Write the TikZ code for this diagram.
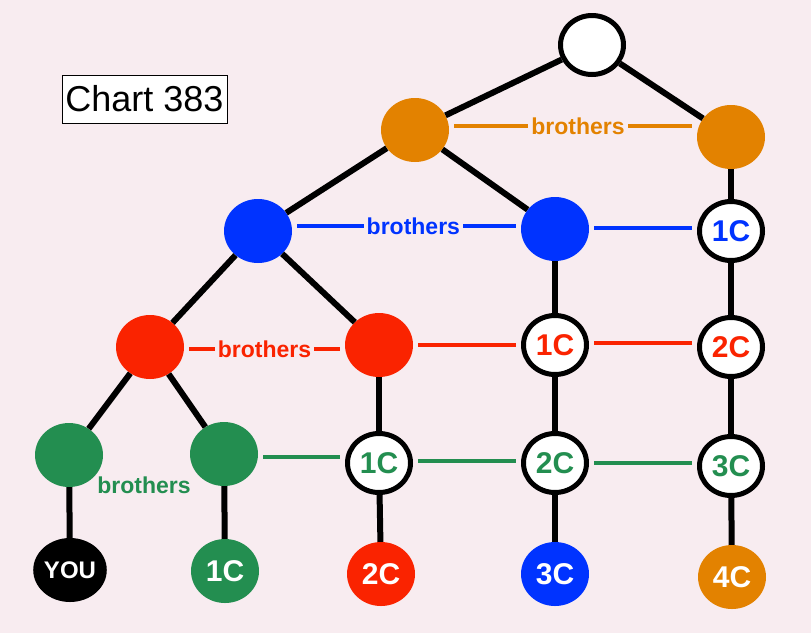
\documentclass[tikz,border=0pt]{standalone}
\usepackage{fontspec}
\setmainfont{Liberation Sans}
\usetikzlibrary{shapes.geometric}
\definecolor{bgpink}{RGB}{248,236,240}
\definecolor{korange}{RGB}{227,130,0}
\definecolor{kblue}{RGB}{0,51,255}
\definecolor{kred}{RGB}{250,35,0}
\definecolor{kgreen}{RGB}{35,142,80}

\begin{document}
\begin{tikzpicture}[x=1pt,y=-1pt,
  person/.style={ellipse,minimum width=68pt,minimum height=64pt,inner sep=0pt,font=\bfseries\fontsize{30}{30}\selectfont},
  cousin/.style={person,draw=black,line width=5pt,fill=white,minimum width=63pt,minimum height=59pt},
  kin/.style={line width=6pt},
  bro/.style={line width=4pt,shorten >=5pt,shorten <=5pt},
  tag/.style={fill=bgpink,inner sep=3pt,font=\bfseries\fontsize{23}{23}\selectfont}]

\fill[bgpink] (0,0) rectangle (811,633);
\useasboundingbox (0,0) rectangle (811,633);

\node[draw=black,line width=1pt,fill=white,minimum width=165pt,minimum height=48pt,inner sep=0pt,font=\fontsize{36}{36}\selectfont] (title) at (144.5,99) {Chart 383};

% generations
\node[cousin] (top) at (592,45) {};
\node[person,fill=korange] (o1) at (415,130) {};
\node[person,fill=korange] (o2) at (731,137) {};

\node[person,fill=kblue] (b1) at (258,231) {};
\node[person,fill=kblue] (b2) at (555,229) {};
\node[cousin,text=kblue] (b3) at (731,231) {1C};

\node[person,fill=kred] (r1) at (150,347) {};
\node[person,fill=kred] (r2) at (379,345) {};
\node[cousin,text=kred] (r3) at (555,345) {1C};
\node[cousin,text=kred] (r4) at (731,347) {2C};

\node[person,fill=kgreen] (g1) at (69,455) {};
\node[person,fill=kgreen] (g2) at (224,454) {};
\node[cousin,text=kgreen] (g3) at (379,463) {1C};
\node[cousin,text=kgreen] (g4) at (555,463) {2C};
\node[cousin,text=kgreen] (g5) at (731,466) {3C};

\node[person,fill=black,text=white,font=\bfseries\fontsize{24}{24}\selectfont] (you) at (70,570) {YOU};
\node[person,fill=kgreen,text=white] (c1) at (225,571) {1C};
\node[person,fill=kred,text=white] (c2) at (381,574) {2C};
\node[person,fill=kblue,text=white] (c3) at (555,574) {3C};
\node[person,fill=korange,text=white] (c4) at (732,577) {4C};

% family lines
\draw[kin] (top) -- (o1);
\draw[kin] (top) -- (o2);
\draw[kin] (o1) -- (b1);
\draw[kin] (o1) -- (b2);
\draw[kin] (b1) -- (r1);
\draw[kin] (b1) -- (r2);
\draw[kin] (r1) -- (g1);
\draw[kin] (r1) -- (g2);
\draw[kin] (g1) -- (you);
\draw[kin] (g2) -- (c1);
\draw[kin] (r2) -- (g3);
\draw[kin] (g3) -- (c2);
\draw[kin] (b2) -- (r3);
\draw[kin] (r3) -- (g4);
\draw[kin] (g4) -- (c3);
\draw[kin] (o2) -- (b3);
\draw[kin] (b3) -- (r4);
\draw[kin] (r4) -- (g5);
\draw[kin] (g5) -- (c4);

% same generation
\draw[bro,korange] ([yshift=4pt]o1.east) -- node[tag,text=korange,pos=0.52] {brothers} ([yshift=4pt]o2.west |- o1.east);
\draw[bro,kblue] ([yshift=5pt]b1.east) -- node[tag,text=kblue,pos=0.53] {brothers} ([yshift=5pt]b2.west |- b1.east);
\draw[bro,kblue] ([yshift=1pt]b2.east) -- ([yshift=1pt]b3.west |- b2.east);
\draw[bro,kred] ([yshift=-2pt]r1.east) -- node[tag,text=kred] {brothers} ([yshift=-2pt]r2.west |- r1.east);
\draw[bro,kred] (r2.east) -- (r3.west |- r2.east);
\draw[bro,kred] ([yshift=2pt]r3.east) -- ([yshift=2pt]r4.west |- r3.east);
\node[tag,fill=none,text=kgreen] (gbro) at (144,485) {brothers};
\draw[bro,kgreen] ([yshift=-3pt]g2.east) -- ([yshift=-3pt]g3.west |- g2.east);
\draw[bro,kgreen] ([yshift=2pt]g3.east) -- ([yshift=2pt]g4.west |- g3.east);
\draw[bro,kgreen] (g4.east) -- (g5.west |- g4.east);

\end{tikzpicture}
\end{document}
